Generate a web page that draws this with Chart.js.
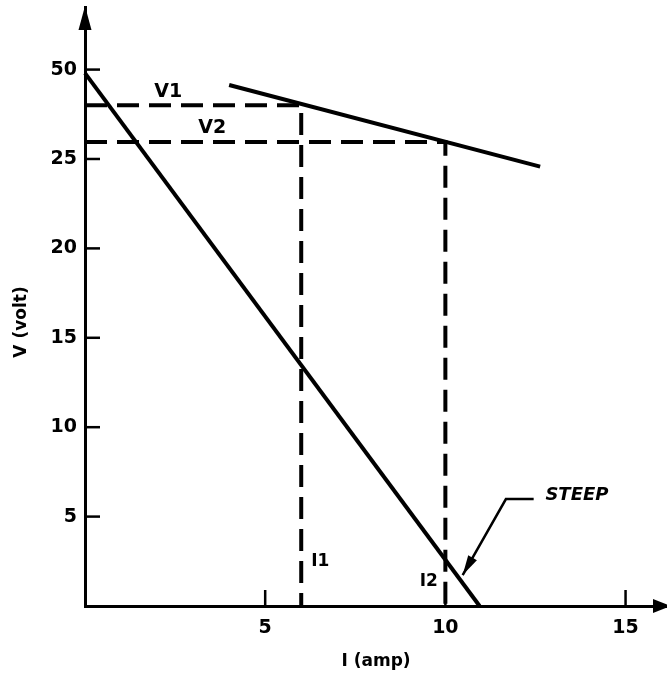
<!DOCTYPE html>
<html><head><meta charset="utf-8">
<script src="https://cdn.jsdelivr.net/npm/chart.js@4/dist/chart.umd.min.js"></script>
<style>html,body{margin:0;padding:0;background:#fff;}canvas{display:block;}</style>
</head><body>
<canvas id="c" width="667" height="678"></canvas>
<script>
// ---- data (axis position units; the top tick is labelled "50") ----
const steepI = [0, 10.95];
const steepV = [29.8, 0];
const flatI = [4.0, 12.63];
const flatV = [29.14, 24.57];
const opNames = ['V1', 'V2'];
const opCurrentNames = ['I1', 'I2'];
const opI = [6, 10];
const opV = [28.0, 25.95];
const xTickValues = [5, 10, 15];
const xTickLabels = ['5', '10', '15'];
const yTickValues = [5, 10, 15, 20, 25, 30];
const yTickLabels = ['5', '10', '15', '20', '25', '50'];
const xTitle = 'I (amp)';
const yTitle = 'V (volt)';
const steepName = 'STEEP';

const FONT = 'DejaVu Sans';
const toPts = (xs, ys) => xs.map((x, i) => ({x: x, y: ys[i]}));

const solid = (data) => ({data, borderColor:'#000', borderWidth:4, pointRadius:0, showLine:true, fill:false, clip:false, borderCapStyle:'butt'});
const dashed = (data) => ({data, borderColor:'#000', borderWidth:4, pointRadius:0, showLine:true, fill:false, clip:false, borderDash:[22,10], borderCapStyle:'butt'});

const datasets = [
  solid(toPts(steepI, steepV)),
  solid(toPts(flatI, flatV)),
];
opI.forEach((iv, k) => {
  datasets.push(dashed([{x:0, y:opV[k]}, {x:iv, y:opV[k]}, {x:iv, y:0}]));
});

const deco = {
  id: 'deco',
  afterDraw(chart) {
    const ctx = chart.ctx, xs = chart.scales.x, ys = chart.scales.y, a = chart.chartArea;
    const X = v => xs.getPixelForValue(v), Y = v => ys.getPixelForValue(v);
    ctx.save();
    ctx.fillStyle = '#000'; ctx.strokeStyle = '#000';
    // arrows on axes
    ctx.beginPath(); ctx.moveTo(a.left, a.top - 1); ctx.lineTo(a.left - 6.5, a.top + 23); ctx.lineTo(a.left + 6.5, a.top + 23); ctx.closePath(); ctx.fill();
    ctx.beginPath(); ctx.moveTo(a.right + 4, a.bottom); ctx.lineTo(a.right - 14, a.bottom - 7); ctx.lineTo(a.right - 14, a.bottom + 7); ctx.closePath(); ctx.fill();
    // inward tick marks
    ctx.lineWidth = 2.5;
    yTickValues.forEach(v => { ctx.beginPath(); ctx.moveTo(a.left, Y(v)); ctx.lineTo(a.left + 15, Y(v)); ctx.stroke(); });
    xTickValues.forEach(v => { ctx.beginPath(); ctx.moveTo(X(v), a.bottom); ctx.lineTo(X(v), a.bottom - 16); ctx.stroke(); });
    // labels
    ctx.textAlign = 'center'; ctx.textBaseline = 'middle';
    ctx.font = 'bold 19px "' + FONT + '"';
    ctx.fillText(opNames[0], X(2.31), Y(28.75));
    ctx.fillText(opNames[1], X(3.53), Y(26.73));
    ctx.font = 'bold 17px "' + FONT + '"';
    ctx.fillText(opCurrentNames[0], X(6.53), Y(2.46));
    ctx.fillText(opCurrentNames[1], X(9.54), Y(1.34));
    ctx.font = 'italic bold 18px "' + FONT + '"';
    ctx.fillText(steepName, X(13.65), Y(6.21));
    // pointer for STEEP
    ctx.lineWidth = 2.5;
    const p0 = [X(12.45), Y(5.98)], p1 = [X(11.68), Y(5.98)], tip = [X(10.48), Y(1.73)];
    ctx.beginPath(); ctx.moveTo(p0[0], p0[1]); ctx.lineTo(p1[0], p1[1]); ctx.lineTo(tip[0], tip[1]); ctx.stroke();
    const ang = Math.atan2(tip[1] - p1[1], tip[0] - p1[0]);
    const L = 20, W = 5;
    ctx.beginPath();
    ctx.moveTo(tip[0], tip[1]);
    ctx.lineTo(tip[0] - L*Math.cos(ang) + W*Math.sin(ang), tip[1] - L*Math.sin(ang) - W*Math.cos(ang));
    ctx.lineTo(tip[0] - L*Math.cos(ang) - W*Math.sin(ang), tip[1] - L*Math.sin(ang) + W*Math.cos(ang));
    ctx.closePath(); ctx.fill();
    // y axis title
    ctx.font = 'bold 17px "' + FONT + '"';
    ctx.translate(22, 322); ctx.rotate(-Math.PI/2);
    ctx.fillText(yTitle, 0, 0);
    ctx.restore();
  }
};

const noPad = s => { s.paddingTop = 0; s.paddingBottom = 0; s.paddingLeft = 0; s.paddingRight = 0; };

new Chart(document.getElementById('c'), {
  type: 'scatter',
  data: { datasets },
  plugins: [deco],
  options: {
    responsive: false,
    animation: false,
    devicePixelRatio: 1,
    layout: { padding: { top: 7, right: 0, left: 0, bottom: 0 } },
    plugins: { legend: { display: false }, tooltip: { enabled: false } },
    scales: {
      x: {
        type: 'linear', min: 0, max: 16.15,
        afterFit: s => { s.height = 72; noPad(s); },
        afterBuildTicks: s => { s.ticks = xTickValues.map(v => ({value: v})); },
        grid: { display: false, drawTicks: false },
        border: { display: true, color: '#000', width: 3 },
        ticks: { padding: 11, color: '#000', font: { family: FONT, weight: 'bold', size: 19 },
                 callback: v => xTickLabels[xTickValues.indexOf(v)] },
        title: { display: true, text: xTitle, color: '#000', font: { family: FONT, weight: 'bold', size: 17 }, padding: { top: 0, bottom: 6 } }
      },
      y: {
        type: 'linear', min: 0, max: 33.5,
        afterFit: s => { s.width = 85; noPad(s); },
        afterBuildTicks: s => { s.ticks = yTickValues.map(v => ({value: v})); },
        grid: { display: false, drawTicks: false },
        border: { display: true, color: '#000', width: 3 },
        ticks: { padding: 8, color: '#000', font: { family: FONT, weight: 'bold', size: 19 },
                 callback: v => yTickLabels[yTickValues.indexOf(v)] },
        title: { display: false }
      }
    }
  }
});
</script>
</body></html>
